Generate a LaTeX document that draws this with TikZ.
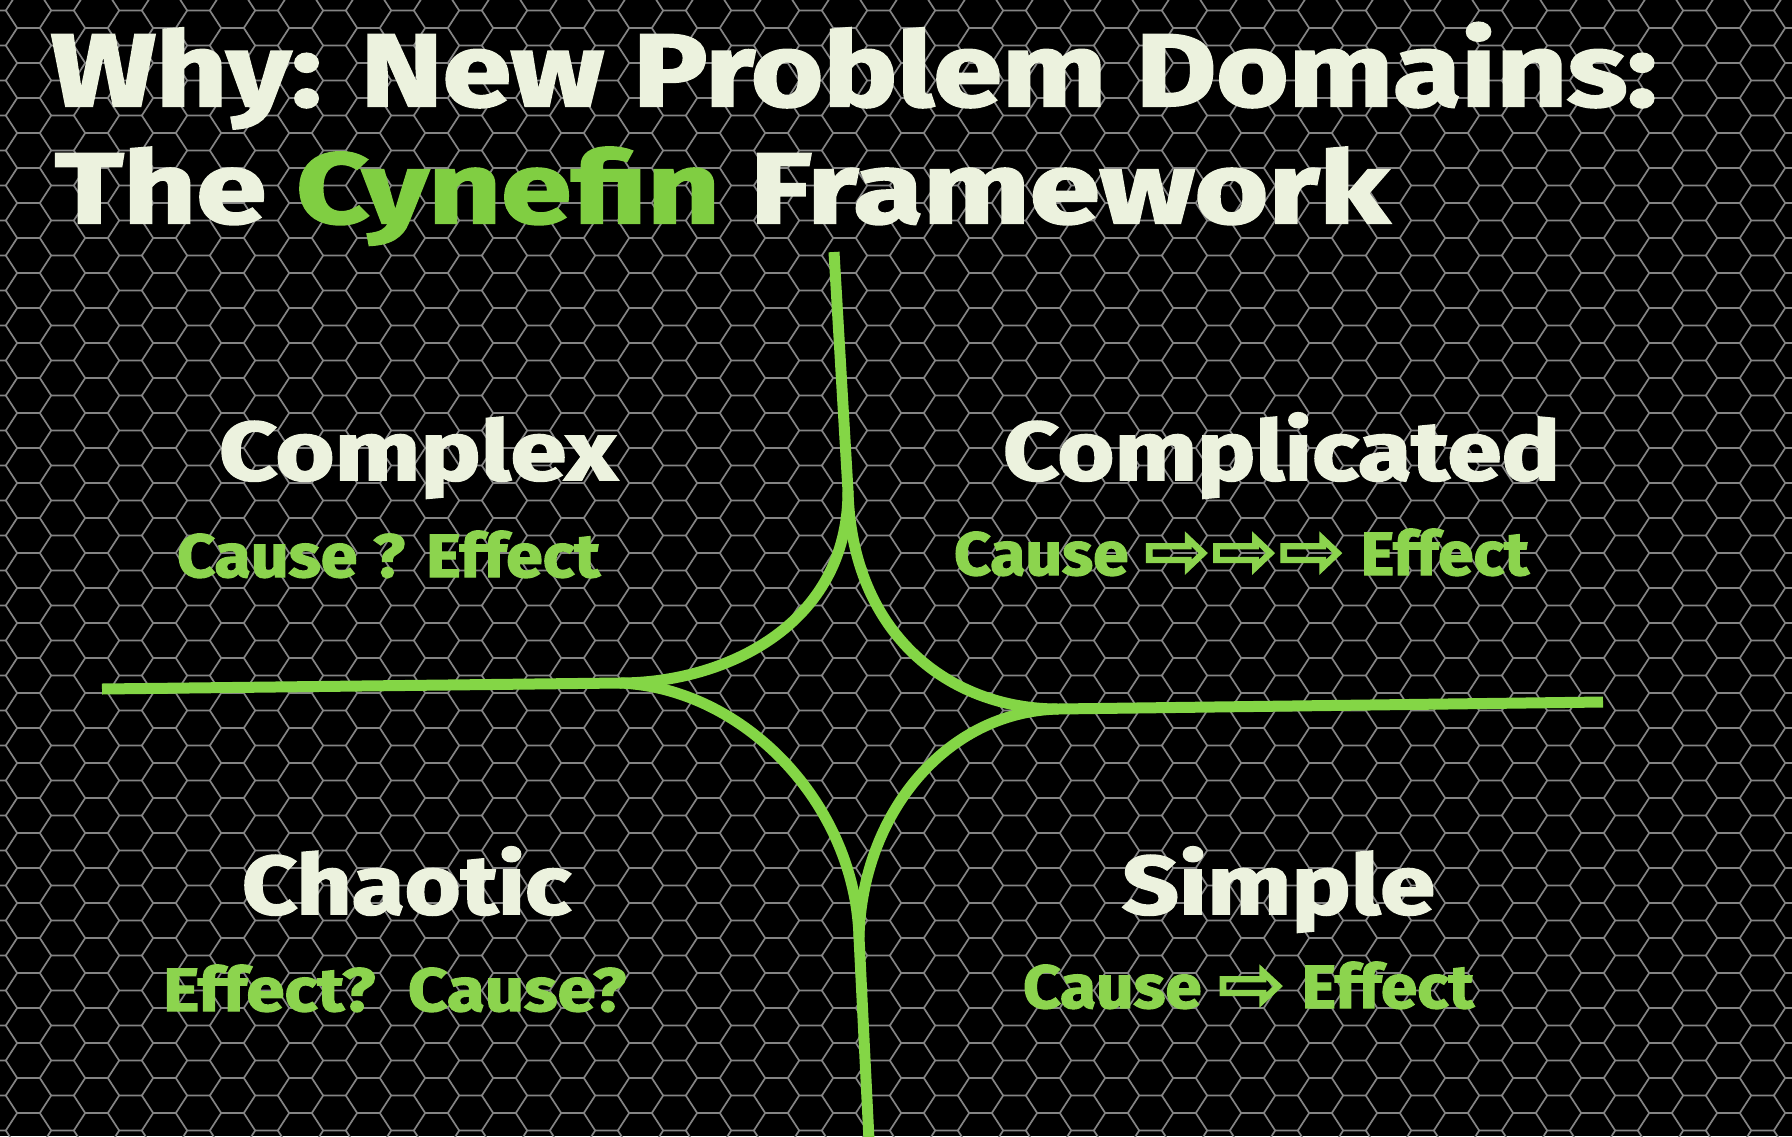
\documentclass[tikz,border=0pt]{standalone}
\usepackage{fontspec}
\usepackage{graphicx}
\setmainfont{Fira Sans}[BoldFeatures={FakeBold=2}]
\newfontfamily\symfont{DejaVu Sans}[FakeBold=1.5]
\definecolor{titlewhite}{RGB}{236,242,222}
\definecolor{labelgreen}{RGB}{140,212,78}
\definecolor{cyngreen}{RGB}{128,206,66}
\definecolor{linegreen}{RGB}{132,214,70}
\definecolor{hexgray}{RGB}{132,132,132}
\newcommand{\fitw}[3]{\resizebox{#1pt}{\height}{\fontsize{#2pt}{#2pt}\selectfont\bfseries #3}}
\newcommand{\bigarrow}{\raisebox{-2pt}{\scalebox{1.25}{\symfont ⇨}}}
\begin{document}
\begin{tikzpicture}[x=1pt,y=-1pt,
  hexline/.style={draw=hexgray,line width=1.7pt},
  gl/.style={draw=linegreen,line width=11pt,line cap=butt,line join=round},
  txt/.style={anchor=base west,inner sep=0pt,outer sep=0pt},
  wtxt/.style={txt,text=titlewhite},
  gtxt/.style={txt,text=labelgreen}]
\useasboundingbox (0,0) rectangle (1792,1136);
\fill[black] (0,0) rectangle (1792,1136);
\begin{scope}
\clip (0,0) rectangle (1792,1136);
\foreach \i in {-1,...,53} {
  \pgfmathsetmacro\cx{28.5+34*\i}
  \pgfmathsetmacro\off{(mod(abs(\i),2)==0) ? 0 : 17.5}
  \foreach \j in {-1,...,33} {
    \pgfmathsetmacro\cy{10.5+35*\j+\off}
    \draw[hexline] (\cx-11.33,\cy+17.5) -- (\cx-22.67,\cy) -- (\cx-11.33,\cy-17.5) -- (\cx+11.33,\cy-17.5);
  }
}
\end{scope}

% Cynefin boundaries
\coordinate (topEnd) at (834,252);
\coordinate (topCusp) at (848,491);
\coordinate (leftCusp) at (620,683);
\coordinate (leftEnd) at (102,689);
\coordinate (rightCusp) at (1058,709);
\coordinate (rightEnd) at (1603,702);
\coordinate (botCusp) at (859,937);
\coordinate (botEnd) at (869,1140);

\draw[gl] (topEnd) -- (topCusp) .. controls (848,625) and (725,683) .. (leftCusp) -- (leftEnd);
\draw[gl] (topCusp) .. controls (852,635) and (950,709) .. (rightCusp) -- (rightEnd);
\draw[gl] (leftCusp) .. controls (745,688) and (855,805) .. (botCusp) -- (botEnd);
\draw[gl] (rightCusp) .. controls (945,712) and (862,815) .. (botCusp);

% Title
\node[wtxt] (t1) at (51,106) {\fitw{1606}{103}{Why: New Problem Domains:}};
\node[wtxt] (t2) at (55,223) {\fitw{1334}{100}{The \textcolor{cyngreen}{Cynefin} Framework}};

% Quadrants
\node[wtxt] (complex) at (219,480) {\fitw{398}{83}{Complex}};
\node[gtxt] (complexsub) at (177,577) {\fitw{423}{61}{Cause ? Effect}};
\node[wtxt] (complicated) at (1003,480) {\fitw{557}{83}{Complicated}};
\node[gtxt] (complicatedsub) at (954,575) {\fitw{575}{61}{Cause \bigarrow\bigarrow\bigarrow{} Effect}};
\node[wtxt] (chaotic) at (242,914) {\fitw{329}{83}{Chaotic}};
\node[gtxt] (chaoticsub) at (163,1011) {\fitw{463}{61}{Effect?\ \ Cause?}};
\node[wtxt] (simple) at (1122,914) {\fitw{313}{83}{Simple}};
\node[gtxt] (simplesub) at (1023,1008) {\fitw{451}{61}{Cause \bigarrow{} Effect}};
\end{tikzpicture}
\end{document}
